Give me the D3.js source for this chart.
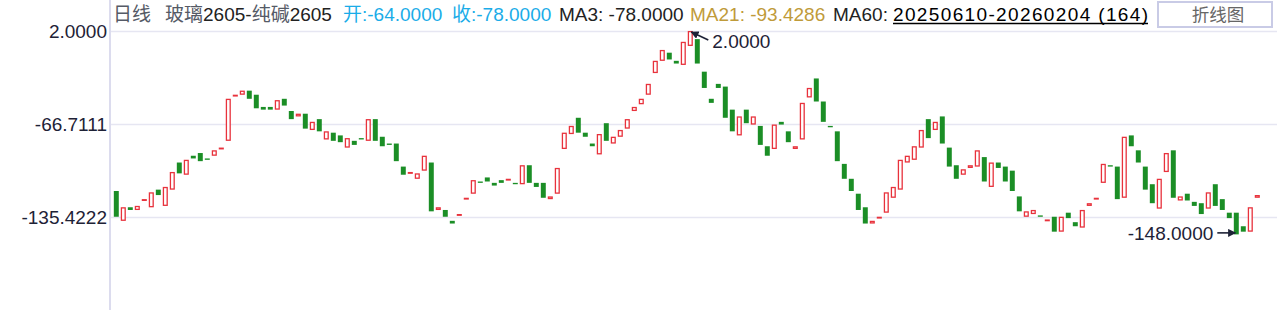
<!DOCTYPE html>
<html><head><meta charset="utf-8">
<script src="https://cdn.jsdelivr.net/npm/d3@7/dist/d3.min.js"></script>
<style>
body{margin:0;background:#fff;}
svg{display:block;font-family:"Liberation Sans",Arial,"Noto Sans CJK SC",sans-serif;}
</style>
</head><body>
<svg id="chart" width="1277" height="310"></svg>
<script>
// ---- data ----
const opens = [
 -116,-138,-128,-130,-123,-128,-115,-127,-115,-95,
 -104,-90,-88,-92,-90,-85,-79,-46,-45,-42,
 -45,-54,-54,-56,-48,-57,-61,-59,-71,-63,
 -78,-73,-75,-84,-79,-77,-79,-63,-76,-81,
 -81,-98,-103,-107,-101,-95,-130,-130,-138,-134,
 -122,-118,-109,-106,-110,-108,-108,-110,-111,-97,
 -110,-110,-122,-118,-85,-74,-62,-73,-81,-89,
 -66,-81,-76,-70,-57,-52,-45,-29,-20,-14,
 -20,-23,-9,-4,-28,-48,-37,-39,-56,-75,
 -56,-67,-68,-83,-85,-65,-72,-85,-78,-47,
 -33,-50,-68,-72,-96,-107,-118,-128,-140,-136,
 -132,-121,-115,-95,-93,-84,-63,-71,-61,-84,
 -97,-104,-99,-98,-91,-113,-95,-98,-101,-120,
 -135,-133,-134,-138,-135,-146,-132,-139,-143,-127,
 -122,-110,-97,-98,-121,-75,-86,-98,-111,-129,
 -102,-86,-123,-118,-124,-125,-129,-111,-122,-132,
 -132,-142,-146,-121
];
const closes = [
 -135,-128,-130,-127,-122,-117,-119,-113,-102,-103,
 -93,-92,-94,-93,-86,-84,-48,-45,-42,-48,
 -55,-56,-56,-49,-53,-63,-59,-70,-65,-72,
 -72,-79,-80,-77,-82,-78,-63,-79,-83,-82,
 -94,-104,-102,-103,-90,-131,-128,-135,-140,-133,
 -121,-108,-110,-109,-112,-110,-107,-111,-97,-110,
 -113,-121,-120,-99,-73,-68,-73,-76,-83,-74,
 -79,-76,-71,-63,-54,-48,-37,-20,-12,-19,
 -22,-6,2,-22,-40,-51,-40,-62,-72,-61,
 -66,-61,-82,-90,-67,-67,-80,-83,-51,-40,
 -50,-65,-69,-94,-107,-116,-130,-140,-138,-135,
 -117,-113,-93,-90,-83,-71,-77,-65,-81,-98,
 -107,-100,-97,-86,-109,-95,-99,-109,-116,-131,
 -131,-130,-135,-137,-146,-135,-136,-142,-130,-125,
 -121,-96,-98,-122,-76,-83,-95,-115,-125,-107,
 -88,-121,-120,-123,-127,-133,-117,-127,-130,-136,
 -148,-146,-128,-119
];
const tickValues = [2.0, -66.7111, -135.4222];
const tickLabels = ["2.0000", "-66.7111", "-135.4222"];
const headerName = ["日线", "玻璃", "2605-", "纯碱", "2605"];
const headerOpen = "开:-64.0000";
const headerClose = "收:-78.0000";
const headerMA3 = "MA3: -78.0000";
const headerMA21 = "MA21: -93.4286";
const headerMA60 = "MA60:";
const headerRange = "20250610-20260204 (164)";
const buttonLabel = "折线图";

// ---- drawing ----
const svg = d3.select("#chart");
const W = 1277, H = 310;
const RED = "#e8323c", GREEN = "#1b8e26", DARK = "#1e2236";
const fmt4 = v => v.toFixed(4);

const candles = opens.map((o, i) => ({i, o, c: closes[i]}));

const x = d3.scaleBand().domain(candles.map(d => d.i)).range([112.8, 1260.8]).paddingInner(0.29).paddingOuter(0.145);
const y = d3.scaleLinear().domain([tickValues[2], tickValues[0]]).range([217.33, 31]);

// grid lines
svg.append("g").selectAll("line").data(tickValues).join("line")
  .attr("x1", 110).attr("x2", W)
  .attr("y1", d => Math.round(y(d)) + 0.5).attr("y2", d => Math.round(y(d)) + 0.5)
  .attr("stroke", "#e6e6f2").attr("stroke-width", 1.5);

// left axis line
svg.append("line").attr("x1", 110).attr("x2", 110).attr("y1", 0).attr("y2", H)
  .attr("stroke", "#dcdcee").attr("stroke-width", 2);

// y labels
svg.append("g").selectAll("text").data(tickValues).join("text")
  .attr("x", 107).attr("y", d => y(d)).attr("dy", "0.36em")
  .attr("text-anchor", "end").attr("font-size", 19).attr("fill", DARK)
  .text((d, i) => tickLabels[i]);

// candles
const bw = x.bandwidth();
const g = svg.append("g");
g.selectAll("rect").data(candles).join("rect")
  .attr("x", d => d.c > d.o ? x(d.i) + 0.6 : x(d.i))
  .attr("width", d => d.c > d.o ? bw - 1.2 : bw)
  .attr("y", d => y(Math.max(d.o, d.c)) + (d.c > d.o ? 0.6 : 0))
  .attr("height", d => {
    const h = Math.abs(y(d.o) - y(d.c));
    return d.c > d.o ? Math.max(0.6, h - 1.2) : Math.max(1.2, h);
  })
  .attr("fill", d => d.c > d.o ? "#fff" : GREEN)
  .attr("stroke", d => d.c > d.o ? RED : "none")
  .attr("stroke-width", 1.3);

// max / min markers
const highs = candles.map(d => Math.max(d.o, d.c));
const lows = candles.map(d => Math.min(d.o, d.c));
const maxI = d3.maxIndex(highs), minI = d3.minIndex(lows);
const defs = svg.append("defs");
defs.append("marker").attr("id", "ah").attr("viewBox", "0 0 10 10").attr("refX", 9).attr("refY", 5)
  .attr("markerWidth", 5).attr("markerHeight", 5).attr("orient", "auto-start-reverse")
  .append("path").attr("d", "M0,0 L10,5 L0,10 z").attr("fill", DARK);

const mx = x(maxI) + bw / 2, my = y(highs[maxI]);
svg.append("line").attr("x1", mx + 18).attr("y1", my + 9).attr("x2", mx + 1).attr("y2", my + 1)
  .attr("stroke", DARK).attr("stroke-width", 1.6).attr("marker-end", "url(#ah)");
svg.append("text").attr("x", mx + 22).attr("y", my + 17).attr("font-size", 19).attr("fill", DARK)
  .text(fmt4(highs[maxI]));

const nx = x(minI) + bw / 2, ny = y(lows[minI]);
svg.append("line").attr("x1", nx - 19).attr("y1", ny - 1.5).attr("x2", nx - 1).attr("y2", ny - 1.5)
  .attr("stroke", DARK).attr("stroke-width", 1.6).attr("marker-end", "url(#ah)");
svg.append("text").attr("x", nx - 23).attr("y", ny - 1.5).attr("dy", "0.36em").attr("text-anchor", "end")
  .attr("font-size", 19).attr("fill", DARK).text(fmt4(lows[minI]));

// header
const hy = 21, fs = 19;
const hdr = svg.append("g").attr("font-size", fs);
hdr.append("text").attr("x", 113).attr("y", hy).attr("fill", "#555a66").text(headerName[0]);
const nm = hdr.append("text").attr("x", 165).attr("y", hy);
nm.append("tspan").attr("fill", "#555a66").text(headerName[1]);
nm.append("tspan").attr("fill", "#222").text(headerName[2]);
nm.append("tspan").attr("fill", "#555a66").text(headerName[3]);
nm.append("tspan").attr("fill", "#222").text(headerName[4]);
hdr.append("text").attr("x", 343).attr("y", hy).attr("fill", "#1aace8").text(headerOpen);
hdr.append("text").attr("x", 452).attr("y", hy).attr("fill", "#1aace8").text(headerClose);
hdr.append("text").attr("x", 559).attr("y", hy).attr("fill", "#222").text(headerMA3);
hdr.append("text").attr("x", 690).attr("y", hy).attr("fill", "#bf9b3a").text(headerMA21);
hdr.append("text").attr("x", 833).attr("y", hy).attr("fill", "#222").text(headerMA60);
hdr.append("text").attr("x", 893).attr("y", hy).attr("fill", "#000")
  .attr("textLength", 255).attr("lengthAdjust", "spacing")
  .text(headerRange);
svg.append("line").attr("x1", 893).attr("x2", 1148).attr("y1", 23.5).attr("y2", 23.5)
  .attr("stroke", "#000").attr("stroke-width", 1.6);

// button
svg.append("rect").attr("x", 1158).attr("y", 2).attr("width", 114).attr("height", 25)
  .attr("fill", "#fff").attr("stroke", "#c9cbe6").attr("stroke-width", 2);
svg.append("text").attr("x", 1218).attr("y", 21).attr("text-anchor", "middle")
  .attr("font-size", 17.5).attr("fill", "#666").text(buttonLabel);
</script>
</body></html>
